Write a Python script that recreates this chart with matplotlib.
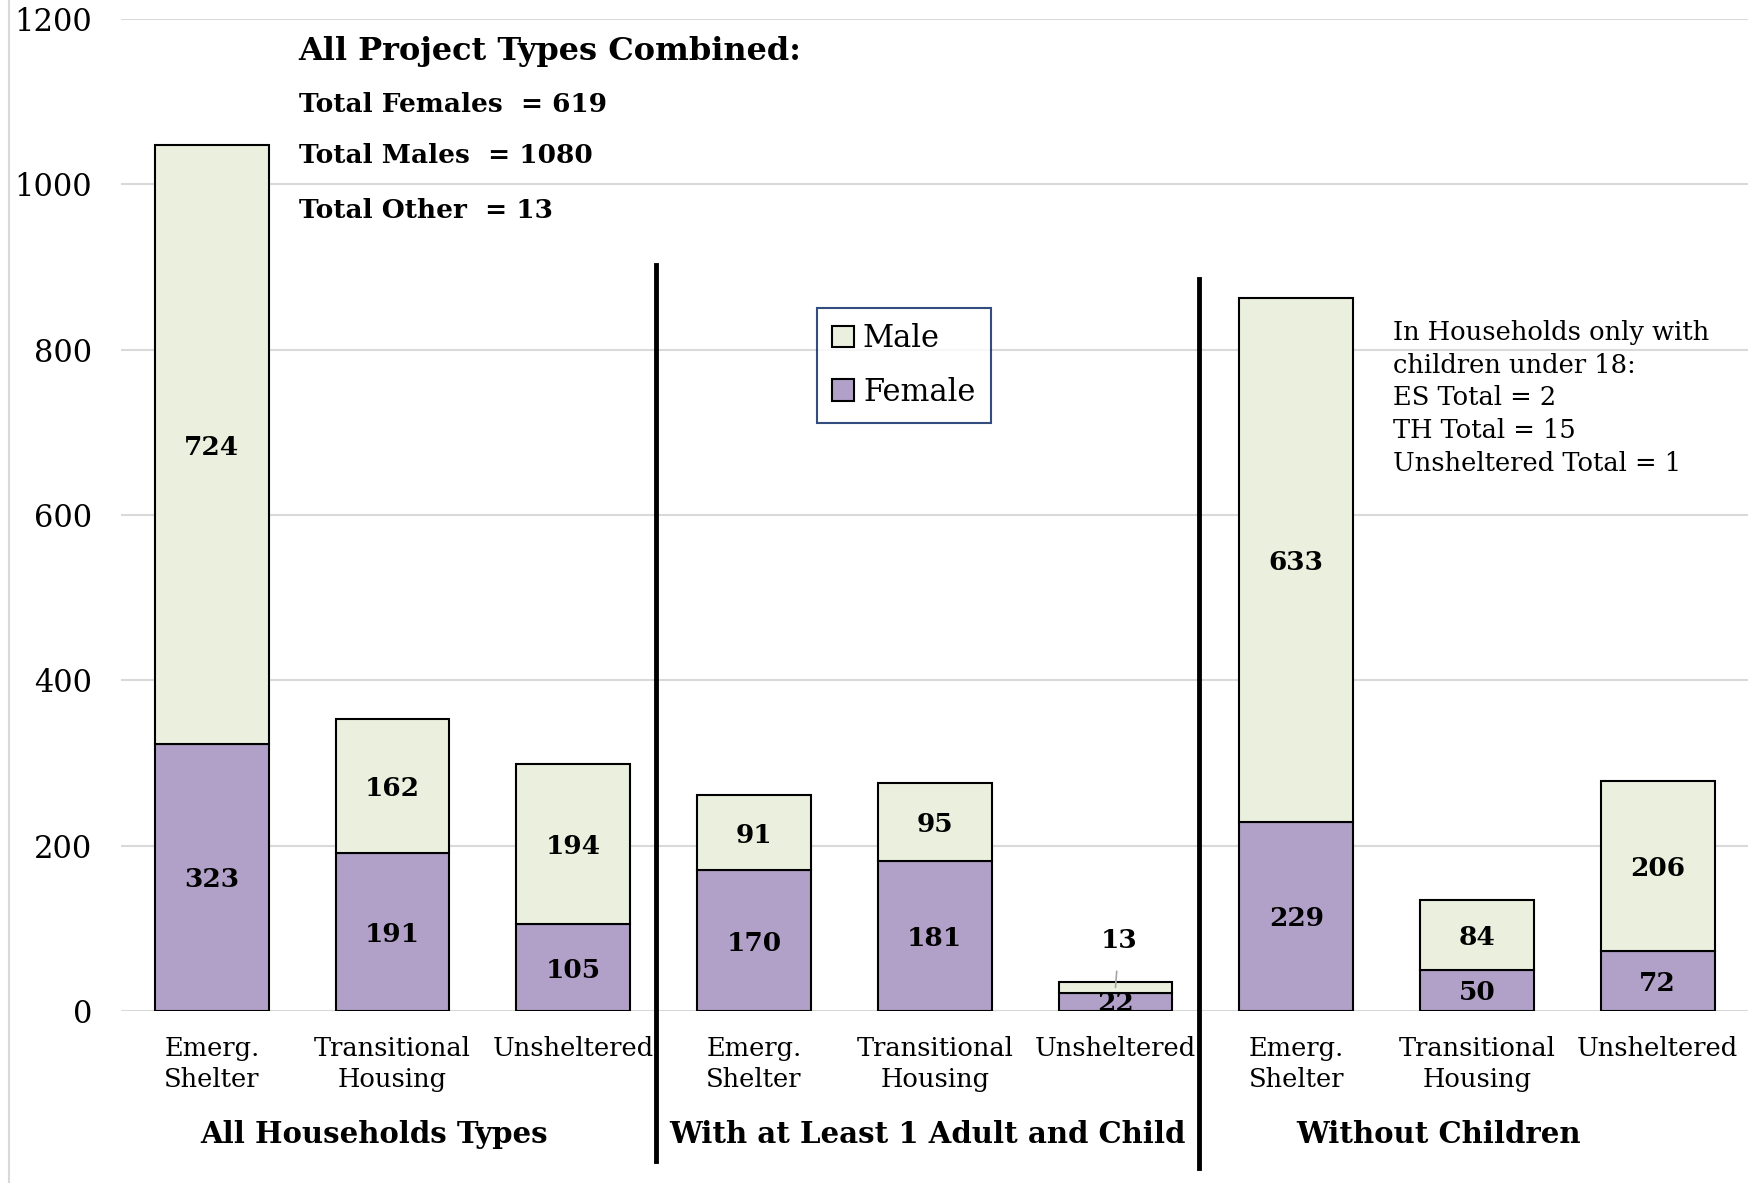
import matplotlib
matplotlib.use("Agg")
import matplotlib.pyplot as plt
from matplotlib.patches import Patch
import numpy as np

plt.rcParams['font.family'] = ['DejaVu Serif']

categories = ["Emerg.\nShelter", "Transitional\nHousing", "Unsheltered"] * 3
groups = ["All Households Types", "With at Least 1 Adult and Child", "Without Children"]
female = [323, 191, 105, 170, 181, 22, 229, 50, 72]
male = [724, 162, 194, 91, 95, 13, 633, 84, 206]

combined_title = "All Project Types Combined:"
combined_lines = ["Total Females  = 619", "Total Males  = 1080", "Total Other  = 13"]
child_only_note = ("In Households only with\nchildren under 18:\nES Total = 2\n"
                   "TH Total = 15\nUnsheltered Total = 1")

c_female = "#B1A0C7"
c_male = "#EBF0DE"

fig = plt.figure(figsize=(17.48, 11.83), dpi=100)
ax = fig.add_axes([0.0695, 0.1454, 0.9305, 0.8386])

x = np.arange(len(categories))
w = 0.63
ax.bar(x, female, w, color=c_female, edgecolor="black", linewidth=1.5, label="Female", zorder=3)
ax.bar(x, male, w, bottom=female, color=c_male, edgecolor="black", linewidth=1.5, label="Male", zorder=3)

ax.set_xlim(-0.5, 8.5)
ax.set_ylim(0, 1200)
ax.set_yticks(range(0, 1201, 200))
ax.grid(axis="y", color="#D9D9D9", linewidth=1.5, zorder=0)
for s in ax.spines.values():
    s.set_visible(False)
ax.tick_params(axis="y", length=0, labelsize=22, pad=21)
ax.tick_params(axis="x", length=0, labelsize=18.5, pad=18)
ax.set_xticks(x)
ax.set_xticklabels(categories, linespacing=1.3)

lab_fs = 19
# value labels
for i in range(len(x)):
    f, m = female[i], male[i]
    if m < 30:
        ax.text(x[i], f / 2 - 2, str(f), ha="center", va="center", fontsize=lab_fs,
                fontweight="bold", zorder=4)
        ax.annotate(str(m), xy=(x[i], f + m / 2), xytext=(x[i] + 0.02, f + m + 50),
                    ha="center", va="center", fontsize=lab_fs, fontweight="bold",
                    arrowprops=dict(arrowstyle="-", color="#A6A6A6", lw=1.2,
                                    shrinkA=11, shrinkB=0), zorder=4)
    else:
        ax.text(x[i], f / 2 - 3, str(f), ha="center", va="center", fontsize=lab_fs,
                fontweight="bold", zorder=4)
        ax.text(x[i], f + m / 2 - 3, str(m), ha="center", va="center", fontsize=lab_fs,
                fontweight="bold", zorder=4)

# group separators
ax.plot([2.457, 2.457], [-182, 902], color="black", lw=3.5, clip_on=False, zorder=5)
ax.plot([5.463, 5.463], [-190, 886], color="black", lw=3.5, clip_on=False, zorder=5)

# group labels
for gx, g in zip([0.895, 3.957, 6.79], groups):
    ax.text(gx, -150, g, ha="center", va="center", fontsize=21, fontweight="bold",
            clip_on=False)

# combined totals
ax.text(0.48, 1161, combined_title, ha="left", va="center", fontsize=23, fontweight="bold")
for yy, t in zip([1096, 1035, 968], combined_lines):
    ax.text(0.48, yy, t, ha="left", va="center", fontsize=19, fontweight="bold")

ax.text(6.537, 836, child_only_note, ha="left", va="top", fontsize=18.5, linespacing=1.39)

handles = [Patch(facecolor=c_male, edgecolor="black", lw=1.5, label="Male"),
           Patch(facecolor=c_female, edgecolor="black", lw=1.5, label="Female")]
leg = ax.legend(handles=handles, loc="upper left", bbox_to_anchor=(0.4277, 0.709),
                borderaxespad=0, fontsize=22, frameon=True, fancybox=False,
                handlelength=0.7, handleheight=0.7, handletextpad=0.3,
                borderpad=0.5, labelspacing=0.75)
leg.get_frame().set_edgecolor("#002060")
leg.get_frame().set_linewidth(1.5)

fig.add_artist(plt.Line2D([0.005, 0.005], [0, 1], color="#D9D9D9", lw=1.5))

fig.savefig("out.png", dpi=100)
